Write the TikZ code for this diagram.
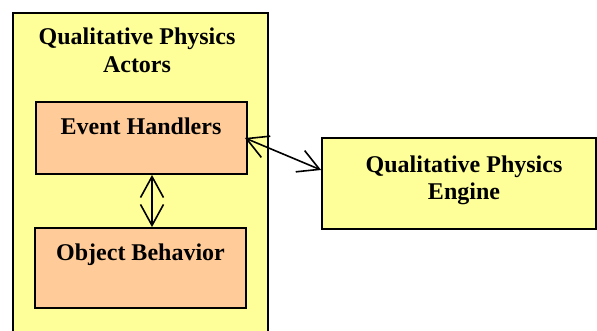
\documentclass[tikz,border=0pt]{standalone}
\usepackage{fontspec}
\setmainfont{Liberation Serif}
\usetikzlibrary{arrows.meta}
\definecolor{paleyellow}{HTML}{FFFF99}
\definecolor{paleorange}{HTML}{FFCC99}
\tikzset{
  panel/.style={draw=black, line width=1.8pt, fill=paleyellow, rectangle, inner sep=0pt},
  part/.style={draw=black, line width=1.8pt, fill=paleorange, rectangle, inner sep=0pt},
  caption/.style={font=\bfseries\fontsize{24}{27.5}\selectfont, align=center, inner sep=0pt, anchor=base},
  link/.style={line width=1.6pt, {Straight Barb[length=21pt,width=23pt]}-{Straight Barb[length=21pt,width=23pt]}},
}
\begin{document}
\begin{tikzpicture}[x=1pt,y=-1pt]
  \useasboundingbox (0,0) rectangle (597,331);
  \clip (0,0) rectangle (597,331);
  % actors panel (runs past the lower edge)
  \node[panel, minimum width=255, minimum height=340, anchor=north west] (actors) at (12,12) {};
  \node[caption] (actorsT) at (137,45) {Qualitative Physics};
  \node[caption] (actorsT2) at (137,73) {Actors};
  % inner parts
  \node[part, minimum width=211, minimum height=72] (eh) at (141.5,138) {};
  \node[caption] (ehT) at (141,135) {Event Handlers};
  \node[part, minimum width=211, minimum height=80] (ob) at (140.5,268) {};
  \node[caption] (obT) at (140.5,260) {Object Behavior};
  % engine
  \node[panel, minimum width=274, minimum height=91] (eng) at (459,183.5) {};
  \node[caption] (engT) at (464,173) {Qualitative Physics};
  \node[caption] (engT2) at (464,200) {Engine};
  % connectors
  \draw[link] ([xshift=10.5pt]eh.south) -- ([xshift=11.5pt]ob.north);
  \draw[link] ([xshift=-3pt]eh.east) -- ([yshift=13.5pt]eng.west);
\end{tikzpicture}
\end{document}
